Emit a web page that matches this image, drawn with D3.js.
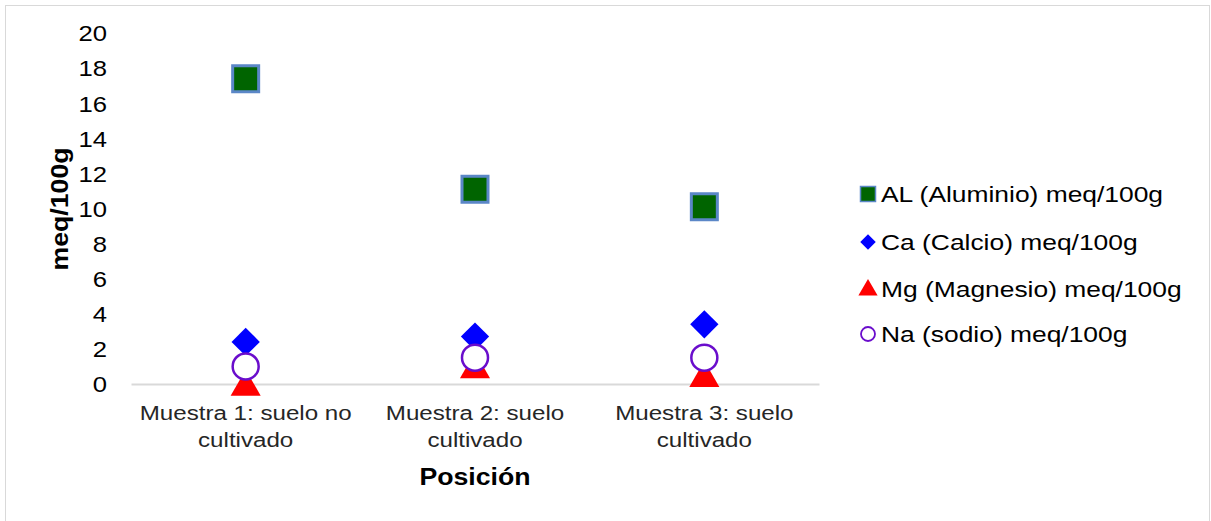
<!DOCTYPE html>
<html>
<head>
<meta charset="utf-8">
<script src="https://cdn.jsdelivr.net/npm/d3@7"></script>
<style>
  html, body { margin: 0; padding: 0; background: #fff; }
  svg { display: block; font-family: "Liberation Sans", Arial, sans-serif; }
</style>
</head>
<body>
<svg id="chart" width="1211" height="521"></svg>
<script>
// Soil exchangeable cations per sample (meq/100g)
const categories = ["Muestra 1: suelo no cultivado", "Muestra 2: suelo cultivado", "Muestra 3: suelo cultivado"];
const categoryLines = [["Muestra 1: suelo no", "cultivado"], ["Muestra 2: suelo", "cultivado"], ["Muestra 3: suelo", "cultivado"]];
const aluminio = [17.4, 11.1, 10.1];
const calcio = [2.4, 2.7, 3.4];
const magnesio = [0.0, 1.0, 0.5];
const sodio = [1.0, 1.5, 1.5];
const yTicks = [0, 2, 4, 6, 8, 10, 12, 14, 16, 18, 20];
const seriesNames = ["AL (Aluminio) meq/100g", "Ca (Calcio) meq/100g", "Mg (Magnesio) meq/100g", "Na (sodio) meq/100g"];

const svg = d3.select("#chart");

// outer chart frame
svg.append("rect").attr("x", 5.5).attr("y", 5.5).attr("width", 1204).attr("height", 530)
  .attr("fill", "#fff").attr("stroke", "#d9d9d9").attr("stroke-width", 1);

const plot = { left: 131, right: 819, top: 33, bottom: 384 };

const x = d3.scaleBand().domain(categories).range([plot.left, plot.right]);
const y = d3.scaleLinear().domain([0, 20]).range([plot.bottom, plot.top]);
const cx = c => x(c) + x.bandwidth() / 2;

// text helper: wide-set labels (horizontal stretch along the reading direction)
function label(g, px, py, txt, opts) {
  const o = Object.assign({ size: 22, stretch: 1.15, anchor: "middle", weight: "normal", fill: "#000", rotate: 0, dy: "0" }, opts);
  return g.append("text")
    .attr("transform", `translate(${px},${py}) rotate(${o.rotate}) scale(${o.stretch},1)`)
    .attr("text-anchor", o.anchor).attr("font-size", o.size).attr("font-weight", o.weight)
    .attr("fill", o.fill).attr("dy", o.dy).text(txt);
}

// y axis: tick labels only, positioned by the scale
const yAxis = svg.append("g").attr("transform", `translate(${plot.left - 24},0)`)
  .call(d3.axisLeft(y).tickValues(yTicks).tickSize(0).tickFormat(""));
yAxis.select(".domain").remove();
yAxis.selectAll(".tick").each(function(d) {
  label(d3.select(this), 0, 0, String(d), { size: 22.5, stretch: 1.14, anchor: "end", dy: "0.35em" });
});

// category axis
const xAxis = svg.append("g").attr("transform", `translate(0,${plot.bottom})`)
  .call(d3.axisBottom(x).tickSize(0).tickFormat(""));
xAxis.select(".domain").attr("stroke", "#d9d9d9").attr("stroke-width", 2);

categories.forEach((c, i) => {
  categoryLines[i].forEach((line, j) => {
    label(svg, cx(c), 420 + j * 27, line, { size: 21, stretch: 1.15, fill: "#262626" });
  });
});

// axis titles
label(svg, 475, 485, "Posición", { size: 23, stretch: 1.16, weight: "bold" });
label(svg, 68, 209, "meq/100g", { size: 23, stretch: 1.16, weight: "bold", rotate: -90 });

const squareShape = d3.symbolSquare;
const styles = [
  { type: squareShape, rot: 0, fill: "#006400", stroke: "#5b87c7", sw: 3, size: 26 * 26, lsize: 15 * 15, lsw: 1.5 },
  { type: squareShape, rot: 45, fill: "#0000ff", stroke: "none", sw: 0, size: 20 * 20, lsize: 11 * 11, lsw: 0 },
  { type: d3.symbolTriangle, rot: 0, fill: "#ff0000", stroke: "none", sw: 0, size: 28 * 28 * 0.5, lsize: 160, lsw: 0 },
  { type: d3.symbolCircle, rot: 0, fill: "#ffffff", stroke: "#6a0dcc", sw: 2.5, size: Math.PI * 13 * 13, lsize: Math.PI * 7 * 7, lsw: 1.8 }
];

const series = [aluminio, calcio, magnesio, sodio];
series.forEach((vals, si) => {
  const st = styles[si];
  svg.append("g").selectAll("path").data(vals).join("path")
    .attr("transform", (d, i) => {
      const off = st.type === d3.symbolTriangle ? 3 : 0;
      return `translate(${cx(categories[i])},${y(d) + off}) rotate(${st.rot})`;
    })
    .attr("d", d3.symbol().type(st.type).size(st.size))
    .attr("fill", st.fill).attr("stroke", st.stroke).attr("stroke-width", st.sw);
});

// legend
const legendY = [194, 242, 289, 334];
seriesNames.forEach((name, i) => {
  const st = styles[i];
  svg.append("path")
    .attr("transform", `translate(868,${legendY[i] + (st.type === d3.symbolTriangle ? 1 : 0)}) rotate(${st.rot})`)
    .attr("d", d3.symbol().type(st.type).size(st.lsize))
    .attr("fill", st.fill).attr("stroke", st.stroke).attr("stroke-width", st.lsw);
  label(svg, 881, legendY[i], name, { size: 22, stretch: 1.2, anchor: "start", dy: "0.35em" });
});
</script>
</body>
</html>
